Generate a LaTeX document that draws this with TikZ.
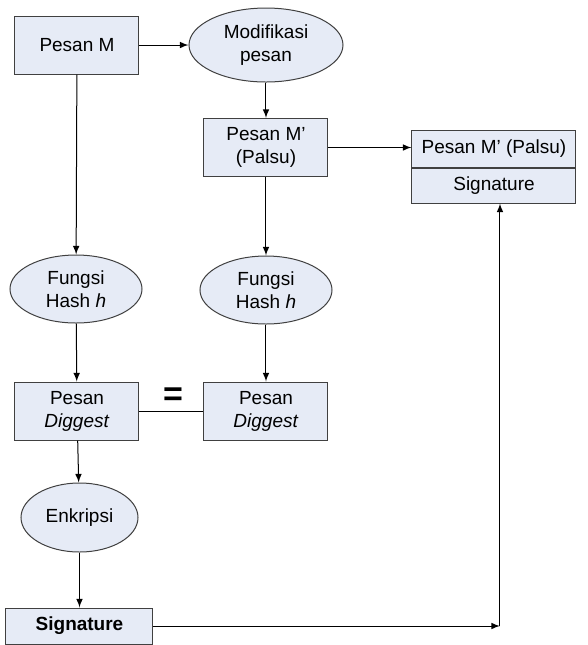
\documentclass[tikz,border=0pt]{standalone}
\usepackage{fontspec}
\setmainfont{Liberation Sans}
\usetikzlibrary{arrows,shapes.geometric,positioning}
\definecolor{isi}{HTML}{E6EBF6}
\tikzset{
  kotak/.style={draw=black!75, fill=isi, line width=0.5pt, inner sep=0pt,
    minimum width=62pt, minimum height=29pt, align=center},
  oval/.style={ellipse, draw=black!75, fill=isi, line width=0.5pt,
    inner sep=0pt, align=center},
  panah/.style={-latex, line width=0.5pt}
}

\begin{document}
\begin{tikzpicture}[x=0.5pt,y=-0.5pt,font=\fontsize{9.5}{11.5}\selectfont]
\useasboundingbox (0,0) rectangle (588,645);
% kolom kiri
\node[kotak] (pesanM) at (77,45) {Pesan M};
\node[oval, minimum width=66pt, minimum height=34pt] (hashA) at (76,289) {Fungsi\\Hash \textit{h}};
\node[kotak] (digA) at (77,411) {Pesan\\\textit{Diggest}};
\node[oval, minimum width=58.5pt, minimum height=34.5pt] (enk) at (79.5,517.5) {Enkripsi};
\node[kotak, minimum width=73.5pt, minimum height=18pt] (sigA) at (79.5,626) {\textbf{Signature}};
% kolom tengah
\node[oval, minimum width=77pt, minimum height=37pt] (modif) at (266,45) {Modifikasi\\pesan};
\node[kotak] (palsu) at (266,147.5) {Pesan M'\\(Palsu)};
\node[oval, minimum width=66pt, minimum height=34pt] (hashB) at (266,290) {Fungsi\\Hash \textit{h}};
\node[kotak] (digB) at (266,411) {Pesan\\\textit{Diggest}};
\node[font=\fontsize{17}{17}\selectfont\bfseries] (sama) at (173,397) {=};
% kolom kanan
\node[kotak, minimum width=82pt, minimum height=18.5pt] (msgB) at (494,148.5) {Pesan M' (Palsu)};
\node[kotak, minimum width=82pt, minimum height=17.5pt, below=0pt of msgB] (sigB) {Signature};
\coordinate (belok) at (500,626);

\draw[panah] (pesanM) -- (modif);
\draw[panah] (modif) -- (palsu);
\draw[panah] (pesanM) -- (hashA);
\draw[panah] (hashA) -- (digA);
\draw[panah] (digA) -- (enk);
\draw[panah] (enk) -- (sigA);
\draw[panah] (palsu) -- (hashB);
\draw[panah] (hashB) -- (digB);
\draw[panah] (palsu.east) -- (palsu.east -| msgB.west);
\draw[line width=0.5pt] (digA) -- (digB);
\draw[panah] (sigA) -- (belok);
\draw[panah] (belok) -- (belok |- sigB.south);
\end{tikzpicture}
\end{document}
